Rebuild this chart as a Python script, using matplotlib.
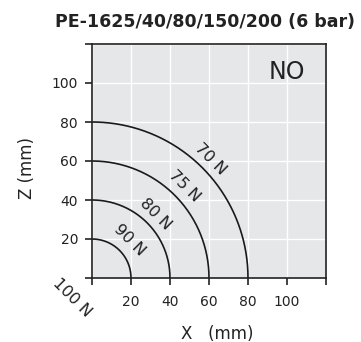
import numpy as np
import matplotlib
matplotlib.use("Agg")
import matplotlib.pyplot as plt

plt.rcParams['font.family'] = ['DejaVu Sans']

# Force curves: quarter circles (radius in mm) and their labels
radii = [20, 40, 60, 80]
force_labels = ["90 N", "80 N", "75 N", "70 N"]
label_radius = [27.5, 46, 67, 86]
ticks = [0, 20, 40, 60, 80, 100, 120]
tick_labels = ["", "20", "40", "60", "80", "100", ""]

fig = plt.figure(figsize=(3.61, 3.42), dpi=100)
ax = fig.add_axes([92 / 361, 64 / 342, 234 / 361, 234 / 342])
ax.set_facecolor('#e6e7e8')
ax.set_xlim(0, 120)
ax.set_ylim(0, 120)
ax.set_xticks(ticks)
ax.set_yticks(ticks)
ax.set_xticklabels(tick_labels)
ax.set_yticklabels(tick_labels)
ax.grid(True, color='white', lw=1.0)
ax.set_axisbelow(True)
for s in ax.spines.values():
    s.set_color('#222222')
    s.set_linewidth(1.2)
ax.tick_params(direction='out', length=5, width=1.2, color='#222222',
               labelsize=10, labelcolor='#222222', pad=5)
ax.tick_params(axis='x', pad=7)

t = np.linspace(0, np.pi / 2, 200)
for r in radii:
    ax.plot(r * np.cos(t), r * np.sin(t), color='#1a1a1a', lw=1.2)

for lab, r in zip(force_labels, label_radius):
    a = np.pi / 4
    ax.text(r * np.cos(a), r * np.sin(a), lab, rotation=-45, ha='center', va='center',
            fontsize=11.5, color='#222222', rotation_mode='anchor')
ax.text(-10, -10, "100 N", rotation=-45, ha='center', va='center', fontsize=11.5,
        color='#222222', rotation_mode='anchor', clip_on=False)

ax.text(100, 105.5, "NO", ha='center', va='center', fontsize=17, color='#222222')

ax.set_xlabel("X   (mm)", fontsize=12, color='#222222', labelpad=12, x=0.534)
ax.set_ylabel("Z (mm)", fontsize=12, color='#222222', labelpad=11, y=0.47)
fig.text(205 / 361, 1 - 22 / 342, "PE-1625/40/80/150/200 (6 bar)", ha='center', va='center',
         fontsize=12.5, fontweight='bold', color='#222222')

fig.savefig("out.png", dpi=100)
